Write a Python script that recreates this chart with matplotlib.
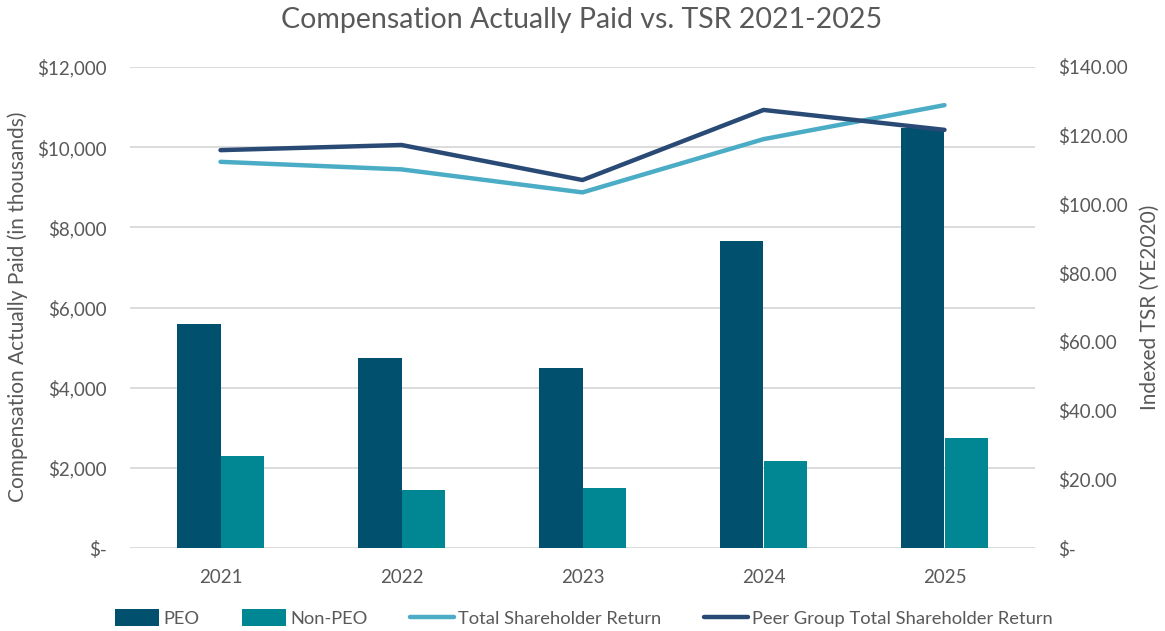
import matplotlib
matplotlib.use("Agg")
import matplotlib.pyplot as plt
import numpy as np
from matplotlib.ticker import FuncFormatter

years = ["2021", "2022", "2023", "2024", "2025"]
peo = [5580, 4730, 4480, 7655, 10470]
non_peo = [2295, 1440, 1500, 2170, 2745]
tsr = [112.4, 110.2, 103.5, 119.0, 128.9]
peer_tsr = [115.8, 117.3, 107.1, 127.5, 121.7]

C_PEO = "#00506E"
C_NONPEO = "#008793"
C_TSR = "#4BACC6"
C_PEER = "#2A4A76"
TXT = "#595959"
GRID = "#D9D9D9"

plt.rcParams['font.family'] = ['Lato', 'DejaVu Sans']

fig = plt.figure(figsize=(11.65, 6.31), dpi=100)
ax = fig.add_axes([130/1165, 1-548/631, (1035-130)/1165, (548-67)/631])
ax2 = ax.twinx()

x = np.arange(len(years))
w = 0.243
ax.bar(x - w/2, peo, w, color=C_PEO, label="PEO", zorder=2)
ax.bar(x + w/2, non_peo, w, color=C_NONPEO, label="Non-PEO", zorder=2)

ax2.plot(x, tsr, color=C_TSR, lw=3.2, solid_capstyle='round', label="Total Shareholder Return")
ax2.plot(x, peer_tsr, color=C_PEER, lw=3.2, solid_capstyle='round', label="Peer Group Total Shareholder Return")

ax.set_xlim(-0.5, 4.5)
ax.set_ylim(0, 12000)
ax.set_yticks(np.arange(0, 12001, 2000))
ax2.set_ylim(0, 140)
ax2.set_yticks(np.arange(0, 141, 20))

def lfmt(v, p):
    return "$-" if v == 0 else "${:,.0f}".format(v)
def rfmt(v, p):
    return "$-" if v == 0 else "${:,.2f}".format(v)
ax.yaxis.set_major_formatter(FuncFormatter(lfmt))
ax2.yaxis.set_major_formatter(FuncFormatter(rfmt))

ax.set_xticks(x)
ax.set_xticklabels(years)
ax.grid(axis='y', color=GRID, lw=1.3, zorder=0)
ax.set_axisbelow(True)
for a in (ax, ax2):
    for s in a.spines.values():
        s.set_visible(False)
    a.tick_params(length=0, labelsize=13.5, labelcolor=TXT)
ax.tick_params(axis='y', pad=16.5)
ax2.tick_params(axis='y', pad=16.5)
ax.tick_params(axis='x', pad=15)

fig.text(18/1165, 1-307/631, "Compensation Actually Paid (in thousands)", rotation=90,
         ha='center', va='center', fontsize=15, color=TXT)
fig.text(1150/1165, 1-307/631, "Indexed TSR (YE2020)", rotation=90,
         ha='center', va='center', fontsize=15, color=TXT)
fig.text(582/1165, 1-20/631, "Compensation Actually Paid vs. TSR 2021-2025",
         ha='center', va='center', fontsize=20.5, color=TXT)

h1, l1 = ax.get_legend_handles_labels()
h2, l2 = ax2.get_legend_handles_labels()
fig.legend(h1 + h2, l1 + l2, loc='center', bbox_to_anchor=(584/1165, 1-618/631),
           ncol=4, frameon=False, fontsize=13.2, labelcolor=TXT,
           handlelength=2.4, handleheight=1.0, handletextpad=0.25, columnspacing=2.3)

fig.savefig("out.png", dpi=100)
